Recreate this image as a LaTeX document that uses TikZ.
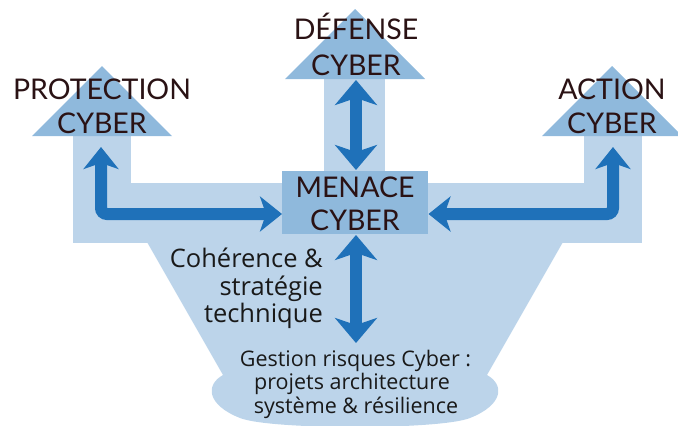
\documentclass[tikz,border=0pt]{standalone}
\usepackage{fontspec}
\setmainfont{Lato}
\newfontfamily\lowfont{Open Sans}
\usetikzlibrary{arrows.meta}
\definecolor{bandblue}{HTML}{BCD4EA}
\definecolor{midblue}{HTML}{8FB9DC}
\definecolor{arrblue}{HTML}{1F71B9}
\definecolor{captxt}{HTML}{2A1214}
\tikzset{
  band/.style={fill=bandblue, draw=none},
  tri/.style={fill=midblue, draw=none},
  capline/.style={anchor=base, inner sep=0pt, text=captxt, font=\fontsize{28.5}{34}\selectfont},
  lowline/.style={anchor=base, inner sep=0pt, text=black!90, font=\lowfont\fontsize{25.5}{28}\selectfont},
  smallline/.style={anchor=base, inner sep=0pt, text=black!90, font=\lowfont\fontsize{21.5}{23}\selectfont},
  arrL/.style={draw=arrblue, line width=12pt, rounded corners=6pt,
    arrows={Stealth[length=22pt, width=35pt, inset=6pt]-Stealth[length=22pt, width=35pt, inset=6pt]}},
  arrV/.style={draw=arrblue, line width=12pt,
    arrows={Stealth[length=25pt, width=42pt, inset=7pt]-Stealth[length=25pt, width=42pt, inset=7pt]}}
}
\begin{document}
\begin{tikzpicture}[x=1pt, y=-1pt]
\useasboundingbox (0,0) rectangle (678,426);
% light band shapes
\fill[band] (73,136) rectangle (131,242);
\fill[band] (584,136) rectangle (642,242);
\fill[band] (73,183) rectangle (642,242.5);
\fill[band] (324,79) rectangle (385,172);
\fill[band] (147,242) -- (563,242) -- (487,375)
  .. controls (505,385) and (503,405) .. (470,418)
  .. controls (440,430) and (270,430) .. (240,418)
  .. controls (207,405) and (205,385) .. (223,375) -- cycle;
% triangles
\fill[tri] (32,136) -- (102,66) -- (172,136) -- cycle;
\fill[tri] (285,79) -- (355,9) -- (425,79) -- cycle;
\fill[tri] (542,136) -- (612,66) -- (682,136) -- cycle;
% menace box
\node[fill=midblue, minimum width=146pt, minimum height=63pt, inner sep=0pt] (menace) at (355,202.5) {};
% arrow end points
\coordinate (pTip) at (101,147);
\coordinate (mL) at (282,214);
\coordinate (aTip) at (613,147);
\coordinate (mR) at (428.5,214);
\coordinate (dTop) at (356,80);
\coordinate (dBot) at (356,170);
\coordinate (gTop) at (356,235);
\coordinate (gBot) at (356,343);
% arrows
\draw[arrL] (pTip) |- (mL);
\draw[arrL] (aTip) |- (mR);
\draw[arrV] (dTop) -- (dBot);
\draw[arrV] (gTop) -- (gBot);
% labels
\node[capline] (prot1) at (102,99) {PROTECTION};
\node[capline] (prot2) at (102,133) {CYBER};
\node[capline] (def1) at (356,39) {DÉFENSE};
\node[capline] (def2) at (356,75) {CYBER};
\node[capline] (act1) at (612,99) {ACTION};
\node[capline] (act2) at (612,133) {CYBER};
\node[capline] (men1) at (355,197) {MENACE};
\node[capline] (men2) at (355,230) {CYBER};
\node[lowline, anchor=base east] (coh1) at (323,267) {Cohérence \&};
\node[lowline, anchor=base east] (coh2) at (323,295) {stratégie};
\node[lowline, anchor=base east] (coh3) at (323,322) {technique};
\node[smallline] (ges1) at (355.5,366) {Gestion risques Cyber :};
\node[smallline] (ges2) at (352,389.5) {projets architecture};
\node[smallline] (ges3) at (356,413) {système \& résilience};
\end{tikzpicture}
\end{document}
